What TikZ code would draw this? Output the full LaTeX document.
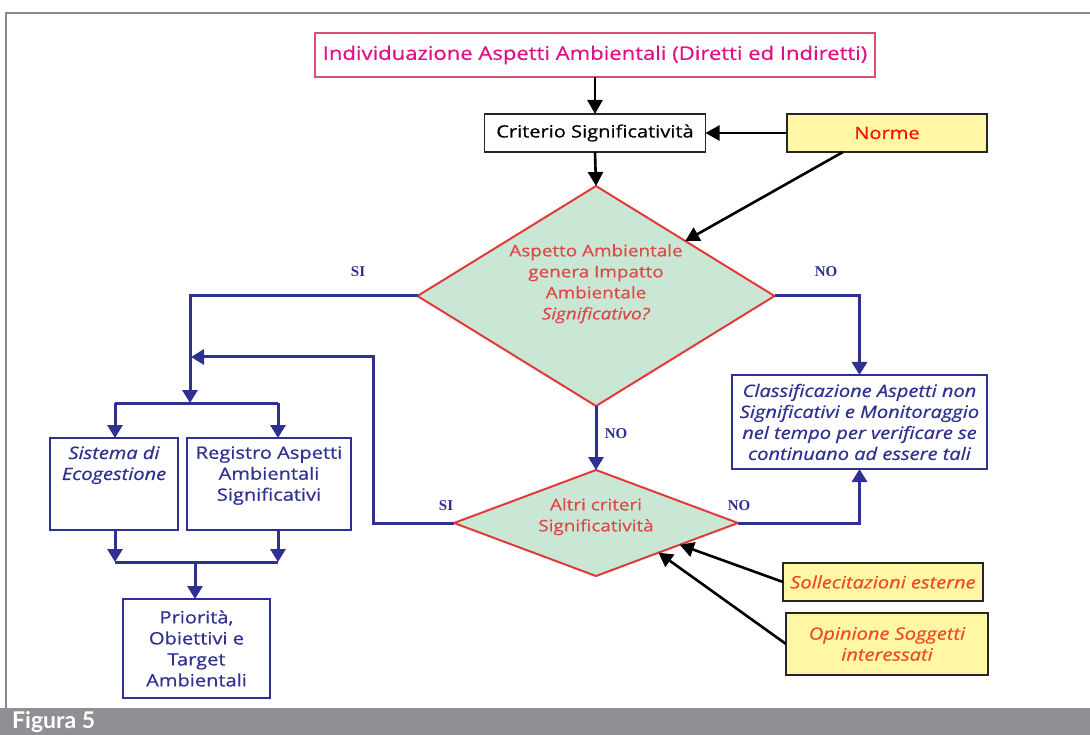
\documentclass[tikz,border=0pt]{standalone}
\usepackage{fontspec}
\setmainfont{Open Sans}[FakeStretch=1.18,FakeBold=0.6]
\newfontfamily\labelfont{Liberation Serif}
\newfontfamily\figfont{Lato}
\usetikzlibrary{shapes.geometric,arrows.meta,calc}
\definecolor{navy}{HTML}{2E3192}
\definecolor{pinktxt}{HTML}{E0108A}
\definecolor{pinkline}{HTML}{D85070}
\definecolor{mint}{HTML}{C9E7D4}
\definecolor{redline}{HTML}{E23A3A}
\definecolor{redtxt}{HTML}{E04848}
\definecolor{yellowfill}{HTML}{FFF6A6}
\definecolor{orangetxt}{HTML}{F04A20}
\definecolor{framegray}{HTML}{8A8A8A}
\definecolor{bargray}{HTML}{8E9094}
\newcommand{\fsz}{\fontsize{17}{21}\selectfont}
\newcommand{\dtext}[2]{\makebox[0pt]{\smash{\raisebox{#1}{\begin{tabular}{@{}c@{}}#2\end{tabular}}}}}
\tikzset{
  box/.style={draw, line width=1.8pt, inner sep=0pt, outer sep=0pt, align=center, font=\fsz},
  bluebox/.style={box, draw=navy, text=navy},
  yelbox/.style={box, draw=black!85, fill=yellowfill, text=orangetxt},
  decision/.style={diamond, draw=redline, fill=mint, line width=2pt, inner sep=0pt, outer sep=0pt,
     text=redtxt, font=\fontsize{16}{21}\selectfont},
  bline/.style={draw=navy, line width=3pt},
  barrow/.style={bline, -{Triangle[length=13pt,width=15pt]}},
  karrow/.style={draw=black, line width=2.6pt, -{Triangle[length=14pt,width=15pt]}},
  lbl/.style={text=navy, font=\labelfont\bfseries\fontsize{15}{18}\selectfont, inner sep=0pt}
}
\begin{document}
\begin{tikzpicture}[x=1pt,y=-1pt]
\useasboundingbox (0,0) rectangle (1090,735);
\fill[white] (0,0) rectangle (1090,735);
% frame
\draw[framegray, line width=2pt] (1090,13) -- (6,13) -- (6,708);
\fill[bargray] (0,708) rectangle (1090,735);
\node[anchor=west, text=white, font=\figfont\bfseries\fontsize{23}{26}\selectfont, inner sep=0pt] (fig) at (12,722) {Figura 5};

% nodes
\node[box, draw=pinkline, text=pinktxt, minimum width=560pt, minimum height=44pt, font=\fontsize{18.7}{22}\selectfont] (top) at (595,55)
  {Individuazione Aspetti Ambientali (Diretti ed Indiretti)};
\node[box, draw=black!85, text=black, minimum width=221pt, minimum height=38pt] (crit) at (595,133) {Criterio Significatività};
\node[yelbox, minimum width=200pt, minimum height=38pt, text=red!90!orange] (norme) at (887,133) {Norme};

\node[decision, minimum width=357pt, minimum height=220pt] (dia1) at (596,296)
  {\dtext{8pt}{Aspetto Ambientale\\genera Impatto\\Ambientale\\\textit{Significativo?}}};
\node[decision, minimum width=284pt, minimum height=106pt] (dia2) at (596,523)
  {\dtext{2pt}{Altri criteri\\Significatività}};

\node[bluebox, minimum width=255pt, minimum height=94pt, font=\fsz\itshape] (cls) at (859.5,422)
  {Classificazione Aspetti non\\Significativi e Monitoraggio\\nel tempo per verificare se\\continuano ad essere tali};

\node[bluebox, minimum width=128pt, minimum height=92pt, font=\fsz\itshape] (sist) at (114,484)
  {Sistema di\\Ecogestione\\~\\~};
\node[bluebox, minimum width=164pt, minimum height=92pt] (reg) at (269,484)
  {Registro Aspetti\\Ambientali\\Significativi\\~};
\node[bluebox, minimum width=147pt, minimum height=99pt] (prio) at (196.5,648.5)
  {Priorità,\\Obiettivi e\\Target\\Ambientali};

\node[yelbox, minimum width=200pt, minimum height=38pt, font=\fsz\itshape] (sol) at (883,582) {Sollecitazioni esterne};
\node[yelbox, minimum width=202pt, minimum height=62pt, font=\fsz\itshape] (opi) at (887,644) {Opinione Soggetti\\interessati};

% black connectors
\draw[karrow] (top.south -| crit.north) -- (crit.north);
\draw[karrow] (norme.west) -- (crit.east);
\draw[karrow] (crit.south) -- (dia1.north);
\draw[karrow] ($(norme.south west)!0.28!(norme.south east)$) -- (dia1.north east);
\draw[karrow] (sol.west) -- ($(dia2.east)!0.41!(dia2.south)$);
\draw[karrow] (opi.west) -- ($(dia2.east)!0.56!(dia2.south)$);

% blue connectors
\coordinate (split) at (190,403);
\coordinate (bl) at (115,403);
\coordinate (br) at (278,403);
\coordinate (fb) at (373,357);
\coordinate (fbend) at (191,357);
\coordinate (jl) at (115,562);
\coordinate (jr) at (278,562);
\coordinate (jm) at (195,562);

\draw[barrow] (dia1.west) -| (split);
\draw[bline] (bl) -- (br);
\draw[barrow] (bl) -- (bl |- sist.north);
\draw[barrow] (br) -- (br |- reg.north);
\draw[barrow] (dia2.west) -| (fb) -- (fbend);
\draw[barrow] (jl |- sist.south) -- (jl);
\draw[barrow] (jr |- reg.south) -- (jr);
\draw[bline] (jl) -- (jr);
\draw[barrow] (jm) -- (jm |- prio.north);

\draw[barrow] (dia1.south) -- (dia2.north);
\draw[barrow] (dia1.east) -| (cls.north);
\draw[barrow] (dia2.east) -| (cls.south);

% labels
\node[lbl] (si1) at (358,272) {SI};
\node[lbl] (no1) at (826,272) {NO};
\node[lbl] (no2) at (616,434) {NO};
\node[lbl] (si2) at (446,506) {SI};
\node[lbl] (no3) at (739,506) {NO};
\end{tikzpicture}
\end{document}
